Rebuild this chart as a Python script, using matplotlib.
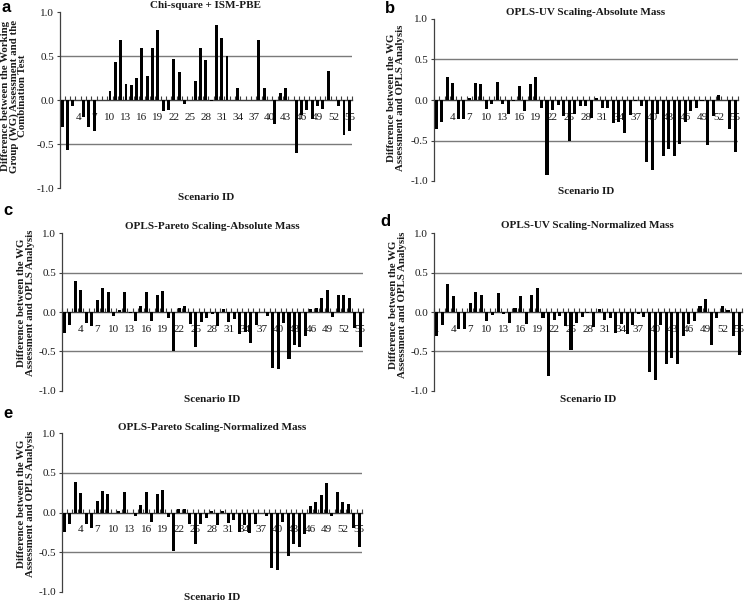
import numpy as np
import matplotlib
matplotlib.use('Agg')
import matplotlib.pyplot as plt

plt.rcParams['font.family'] = ['Liberation Serif', 'DejaVu Serif']

# ---------------- data ----------------
scenario_ids = list(range(1, 56))
tick_ids = list(range(1, 56, 3))
tick_labels = [str(t) for t in tick_ids]
y_ticks = [-1.0, -0.5, 0.0, 0.5, 1.0]
y_tick_labels = ['-1.0', '-0.5', '0.0', '0.5', '1.0']
ref_lines = [0.5, -0.5]

chi_ism = [-0.31, -0.57, -0.07, 0.00, -0.19, -0.30, -0.35, 0.00, 0.00, 0.11,
           0.43, 0.68, 0.18, 0.17, 0.25, 0.60, 0.27, 0.60, 0.80, -0.12,
           -0.11, 0.47, 0.32, -0.04, 0.00, 0.22, 0.60, 0.46, -0.01, 0.86,
           0.71, 0.50, 0.00, 0.14, 0.00, 0.00, 0.00, 0.68, 0.14, 0.00,
           -0.27, 0.08, 0.14, 0.00, -0.60, -0.17, -0.11, -0.21, -0.07, -0.10,
           0.33, 0.00, -0.07, -0.40, -0.35]

uv_absolute = [-0.36, -0.27, 0.28, 0.21, -0.23, -0.23, 0.03, 0.21, 0.20, -0.11,
               -0.05, 0.22, -0.05, -0.17, -0.01, 0.17, -0.14, 0.20, 0.28, -0.10,
               -0.92, -0.12, -0.06, -0.20, -0.51, -0.17, -0.08, -0.07, -0.22, 0.03,
               -0.10, -0.10, -0.28, -0.27, -0.41, -0.18, -0.01, -0.07, -0.76, -0.87,
               -0.17, -0.69, -0.61, -0.69, -0.54, -0.27, -0.14, -0.10, -0.01, -0.55,
               -0.20, 0.06, 0.00, -0.36, -0.64]

pareto_absolute = [-0.27, -0.17, 0.39, 0.28, -0.14, -0.18, 0.15, 0.30, 0.26, -0.05,
                   0.02, 0.25, -0.01, -0.12, 0.08, 0.26, -0.12, 0.22, 0.27, -0.07,
                   -0.50, 0.05, 0.08, -0.15, -0.44, -0.13, -0.08, -0.02, -0.18, 0.04,
                   -0.13, -0.09, -0.28, -0.25, -0.40, -0.17, 0.00, -0.05, -0.71, -0.73,
                   -0.14, -0.60, -0.42, -0.45, -0.30, 0.04, 0.05, 0.18, 0.28, -0.06,
                   0.21, 0.21, 0.18, -0.20, -0.45]

uv_normalized = [-0.31, -0.17, 0.35, 0.20, -0.21, -0.22, 0.11, 0.26, 0.21, -0.11,
                 -0.04, 0.24, -0.03, -0.14, 0.05, 0.20, -0.15, 0.21, 0.30, -0.08,
                 -0.81, -0.10, -0.05, -0.18, -0.48, -0.14, -0.06, -0.01, -0.19, 0.04,
                 -0.10, -0.08, -0.27, -0.15, -0.28, -0.17, -0.02, -0.06, -0.76, -0.86,
                 -0.17, -0.66, -0.59, -0.66, -0.31, -0.15, -0.12, 0.08, 0.16, -0.42,
                 -0.07, 0.07, 0.03, -0.31, -0.55]

pareto_normalized = [-0.24, -0.15, 0.39, 0.25, -0.14, -0.20, 0.15, 0.27, 0.23, -0.01,
                     0.02, 0.26, -0.01, -0.04, 0.10, 0.26, -0.12, 0.23, 0.29, -0.06,
                     -0.49, 0.05, 0.05, -0.14, -0.40, -0.14, -0.07, 0.02, -0.16, 0.02,
                     -0.13, -0.09, -0.24, -0.16, -0.26, -0.14, -0.01, -0.04, -0.70, -0.72,
                     -0.12, -0.55, -0.40, -0.44, -0.27, 0.08, 0.13, 0.22, 0.37, -0.04,
                     0.26, 0.13, 0.11, -0.19, -0.44]

titles = ['Chi-square + ISM-PBE',
          'OPLS-UV Scaling-Absolute Mass',
          'OPLS-Pareto Scaling-Absolute Mass',
          'OPLS-UV Scaling-Normalized Mass',
          'OPLS-Pareto Scaling-Normalized Mass']
letters = ['a', 'b', 'c', 'd', 'e']
ylabel_a = 'Difference between the Working\nGroup (WG) Assessment and the\nCombination Test'
ylabel_opls = 'Difference between the WG\nAssessment and OPLS Analysis'
ylabels = [ylabel_a, ylabel_opls, ylabel_opls, ylabel_opls, ylabel_opls]
xlabel = 'Scenario ID'
series = [chi_ism, uv_absolute, pareto_absolute, uv_normalized, pareto_normalized]

# ---------------- layout (pixels) ----------------
W, H = 745, 603
fig = plt.figure(figsize=(W / 100, H / 100), dpi=100)


def fx(x):
    return x / W


def fy(y):
    return 1 - y / H


layout = [
    # axes box (x0, y0, x1, y1), title y, letter (x, baseline), ylabel (x, y), xlabel y
    dict(box=(59.5, 12.4, 352, 188), ty=5, let=(1, 12), yl=(14, 96), xl=197),
    dict(box=(433.5, 19, 738, 181), ty=12.5, let=(385, 13), yl=(396, 98), xl=191),
    dict(box=(61.5, 233.3, 363, 390.7), ty=227, let=(3, 215), yl=(26, 303), xl=400),
    dict(box=(433.7, 233.3, 742, 390.7), ty=225, let=(380, 226), yl=(398, 305), xl=399),
    dict(box=(61.5, 433.3, 362, 591.7), ty=427, let=(3, 418), yl=(26, 504), xl=597),
]

minor_pos = [i - 0.5 for i in scenario_ids] + [scenario_ids[-1] + 0.5]
axis_col = '#404040'
txt_col = '#1a1a1a'

for vals, title, letter, ylab, lay in zip(series, titles, letters, ylabels, layout):
    x0, y0, x1, y1 = lay['box']
    ax = fig.add_axes([fx(x0), fy(y1), (x1 - x0) / W, (y1 - y0) / H])
    ax.bar(scenario_ids, vals, width=0.55, color='black', zorder=3)
    for r in ref_lines:
        ax.axhline(r, color='#7a7a7a', lw=1.0, zorder=1)
    ax.set_xlim(scenario_ids[0] - 0.5, scenario_ids[-1] + 0.5)
    ax.set_ylim(-1.0, 1.0)
    for s in ['top', 'right']:
        ax.spines[s].set_visible(False)
    ax.spines['bottom'].set_position(('data', 0))
    ax.spines['bottom'].set_color(axis_col)
    ax.spines['bottom'].set_linewidth(1.0)
    ax.spines['left'].set_color(axis_col)
    ax.spines['left'].set_linewidth(0.9)
    ax.set_yticks(y_ticks)
    ax.set_yticklabels(y_tick_labels)
    ax.set_xticks(tick_ids)
    ax.set_xticklabels(tick_labels)
    ax.set_xticks(minor_pos, minor=True)
    ax.tick_params(axis='x', which='major', length=0, pad=9, labelsize=8,
                   labelcolor=txt_col)
    ax.tick_params(axis='x', which='minor', direction='in', length=3,
                   width=0.8, color=axis_col)
    ax.tick_params(axis='y', direction='out', length=2.5, width=0.8,
                   color=axis_col, pad=1.5, labelsize=8, labelcolor=txt_col)
    ax.patch.set_alpha(0)

    cx = (x0 + x1) / 2
    fig.text(fx(cx), fy(lay['ty']), title, ha='center', va='center',
             fontsize=8, fontweight='bold', color=txt_col)
    fig.text(fx(lay['let'][0]), fy(lay['let'][1]), letter, ha='left',
             va='baseline', fontsize=12, fontweight='bold',
             family=['Liberation Sans', 'DejaVu Sans'], color='black')
    fig.text(fx(lay['yl'][0]), fy(lay['yl'][1]), ylab, rotation=90,
             ha='center', va='center', multialignment='center', fontsize=7.8,
             fontweight='bold', linespacing=0.95, color=txt_col)
    fig.text(fx(cx), fy(lay['xl']), xlabel, ha='center', va='center',
             fontsize=8, fontweight='bold', color=txt_col)

fig.savefig('out.png', dpi=100)
